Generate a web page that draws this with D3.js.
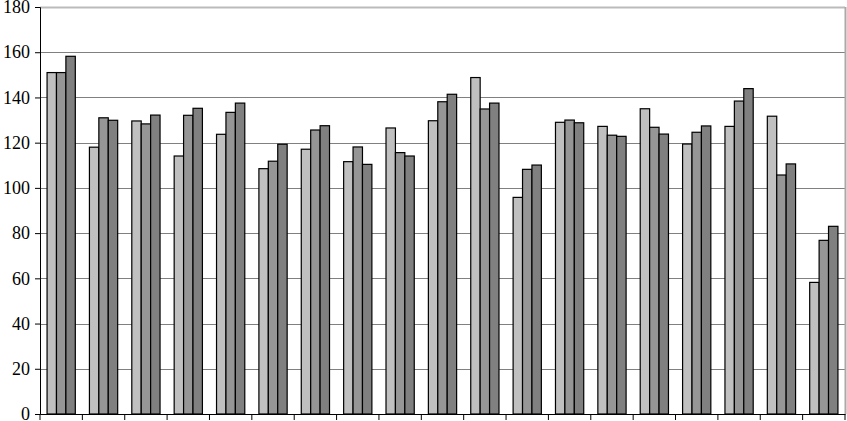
<!DOCTYPE html>
<html>
<head>
<meta charset="utf-8">
<script src="https://cdn.jsdelivr.net/npm/d3@7"></script>
<style>
  body { margin: 0; background: #fff; }
  svg { display: block; }
  .y-axis text { font-family: "Liberation Serif", "Times New Roman", "DejaVu Serif", serif; }
</style>
</head>
<body>
<svg id="chart"></svg>
<script>
// データ
const categories = d3.range(1, 20).map(String);
const seriesNames = ["A", "B", "C"];
const seriesA = [151, 118, 129.6, 114.1, 123.7, 108.5, 117.1, 111.6, 126.5, 129.7, 148.8, 95.8, 129, 127.2, 135, 119.4, 127.2, 131.7, 58.2];
const seriesB = [151, 131, 128.3, 132.1, 133.4, 111.8, 125.6, 118.1, 115.6, 138.1, 134.9, 108.2, 130, 123.3, 126.8, 124.6, 138.4, 105.7, 76.8];
const seriesC = [158.2, 129.9, 132.2, 135.2, 137.5, 119.3, 127.5, 110.4, 114.1, 141.4, 137.5, 110.1, 128.8, 122.8, 123.8, 127.4, 143.9, 110.6, 83];
const yTicks = [0, 20, 40, 60, 80, 100, 120, 140, 160, 180];

const width = 847;
const height = 421;
const margin = { top: 7, right: 2, bottom: 7, left: 40 };
const colors = ["#c0c0c0", "#969696", "#808080"];

const svg = d3.select("#chart").attr("width", width).attr("height", height);

const x = d3.scaleBand()
    .domain(categories)
    .range([margin.left, width - margin.right])
    .paddingInner(0)
    .paddingOuter(0);

// 系列内の棒（Excel の間隔 150% 相当）
const xInner = d3.scaleBand()
    .domain(seriesNames)
    .range([0, x.bandwidth()])
    .paddingOuter(0.75)
    .paddingInner(0);

const y = d3.scaleLinear()
    .domain([0, 180])
    .range([height - margin.bottom, margin.top]);

// グリッド線
svg.append("g")
    .selectAll("line")
    .data(yTicks.filter(d => d > 0))
    .enter()
    .append("line")
    .attr("x1", margin.left)
    .attr("x2", width - margin.right)
    .attr("y1", d => Math.round(y(d)) + 0.5)
    .attr("y2", d => Math.round(y(d)) + 0.5)
    .style("stroke", d => d === 180 ? "#bbbbbb" : "#808080")
    .style("stroke-width", d => d === 180 ? 2 : 1);

// 右枠
svg.append("line")
    .attr("x1", width - margin.right + 0.5)
    .attr("x2", width - margin.right + 0.5)
    .attr("y1", y(180))
    .attr("y2", y(0))
    .style("stroke", "#aaaaaa")
    .style("stroke-width", 2);

// 棒
const data = categories.map((c, i) => ({
    cat: c,
    values: [seriesA[i], seriesB[i], seriesC[i]]
}));

const groups = svg.append("g")
    .selectAll("g")
    .data(data)
    .enter()
    .append("g")
    .attr("transform", d => `translate(${x(d.cat)},0)`);

groups.selectAll("rect")
    .data(d => d.values.map((v, j) => ({ key: seriesNames[j], v, j })))
    .enter()
    .append("rect")
    .attr("x", d => xInner(d.key))
    .attr("width", xInner.bandwidth())
    .attr("y", d => y(d.v))
    .attr("height", d => y(0) - y(d.v))
    .style("fill", d => colors[d.j])
    .style("stroke", "#000")
    .style("stroke-width", 1.2);

// Y軸
const yAxis = d3.axisLeft(y)
    .tickValues(yTicks)
    .tickSize(5)
    .tickPadding(5);

svg.append("g")
    .attr("class", "y-axis")
    .attr("transform", `translate(${margin.left},0)`)
    .call(yAxis)
    .attr("font-family", "Liberation Serif, Times New Roman, serif")
    .attr("font-size", 18)
    .call(g => g.selectAll("text").attr("fill", "#000"))
    .call(g => g.selectAll("line,path").style("stroke", "#000"));

// X軸（ラベルなし）
const xAxis = d3.axisBottom(x)
    .tickValues([])
    .tickSizeOuter(0);

const xg = svg.append("g")
    .attr("transform", `translate(0,${y(0)})`)
    .call(xAxis);
xg.select("path").style("stroke", "#000");

xg.selectAll(".cat-tick")
    .data(categories.concat(["end"]))
    .enter()
    .append("line")
    .attr("class", "cat-tick")
    .attr("x1", d => d === "end" ? width - margin.right : x(d))
    .attr("x2", d => d === "end" ? width - margin.right : x(d))
    .attr("y1", 0)
    .attr("y2", 6)
    .style("stroke", "#000");
</script>
</body>
</html>
